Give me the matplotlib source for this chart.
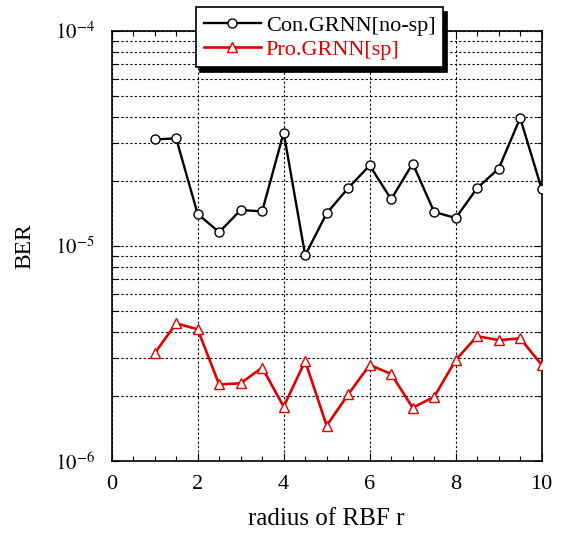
import numpy as np
import matplotlib
matplotlib.use("Agg")
import matplotlib.pyplot as plt
from matplotlib.ticker import LogLocator, MultipleLocator, NullFormatter, FuncFormatter

plt.rcParams['font.family'] = ['Liberation Serif', 'DejaVu Serif']
plt.rcParams['mathtext.fontset'] = 'stix'

r = [1, 1.5, 2, 2.5, 3, 3.5, 4, 4.5, 5, 5.5, 6, 6.5, 7, 7.5, 8, 8.5, 9, 9.5, 10]
ber_con = [3.13e-5, 3.17e-5, 1.41e-5, 1.16e-5, 1.47e-5, 1.45e-5, 3.37e-5, 9.05e-6,
           1.42e-5, 1.86e-5, 2.37e-5, 1.65e-5, 2.42e-5, 1.44e-5, 1.35e-5, 1.86e-5,
           2.29e-5, 3.94e-5, 1.84e-5]
ber_pro = [3.17e-6, 4.37e-6, 4.10e-6, 2.27e-6, 2.30e-6, 2.72e-6, 1.79e-6, 2.92e-6,
           1.46e-6, 2.04e-6, 2.80e-6, 2.54e-6, 1.77e-6, 1.99e-6, 2.95e-6, 3.81e-6,
           3.65e-6, 3.72e-6, 2.80e-6]
labels = ['Con.GRNN[no-sp]', 'Pro.GRNN[sp]']

fig = plt.figure(figsize=(5.61, 5.33), dpi=100)
ax = fig.add_axes([0.199, 0.135, 0.7666, 0.8068])

red = '#e00000'
ax.plot(r, ber_con, color='black', lw=1.7, marker='o', ms=6.5,
        mfc='white', mec='black', mew=1.0, label=labels[0], zorder=3)
ax.plot(r, ber_pro, color=red, lw=1.9, marker='^', ms=7.5,
        mfc='white', mec=red, mew=1.0, label=labels[1], zorder=3)

ax.set_yscale('log')
ax.set_xlim(0, 10)
ax.set_ylim(1e-6, 1e-4)
ax.xaxis.set_major_locator(MultipleLocator(2))
ax.xaxis.set_minor_locator(MultipleLocator(0.5))
ax.yaxis.set_major_locator(LogLocator(base=10, numticks=5))
ax.yaxis.set_minor_locator(LogLocator(base=10, subs=np.arange(2, 10), numticks=20))
ax.yaxis.set_minor_formatter(NullFormatter())
ax.yaxis.set_major_formatter(FuncFormatter(lambda v, p: r'$10^{%d}$' % int(round(np.log10(v)))))

ax.tick_params(which='both', direction='in', top=True, right=True, labelsize=16)
ax.tick_params(which='major', length=6, width=0.8)
ax.tick_params(which='minor', length=3.5, width=0.8)
ax.tick_params(axis='y', which='major', pad=12, labelsize=15)
ax.tick_params(axis='x', which='major', pad=10)

ax.grid(True, which='major', axis='x', ls=(0, (2, 2)), color='black', lw=0.8)
ax.grid(True, which='both', axis='y', ls=(0, (2, 2)), color='black', lw=0.8)
for s in ax.spines.values():
    s.set_linewidth(1.2)

ax.set_xlabel('radius of RBF r', fontsize=18, labelpad=10)
ax.set_ylabel('BER', fontsize=17, labelpad=14)

leg = ax.legend(loc='upper center', bbox_to_anchor=(0.5695, 0.986),
                bbox_transform=fig.transFigure, fontsize=16, frameon=True,
                fancybox=False, shadow={'ox': 3, 'oy': -3, 'color': 'black', 'alpha': 1},
                borderpad=0.35, handlelength=2.6, handletextpad=0.2, labelspacing=0.15,
                borderaxespad=0)
leg.get_frame().set_edgecolor('black')
leg.get_frame().set_linewidth(1.2)
leg.get_frame().set_alpha(1)
leg.set_zorder(10)
leg.get_texts()[1].set_color(red)

fig.savefig('out.png', dpi=100)
